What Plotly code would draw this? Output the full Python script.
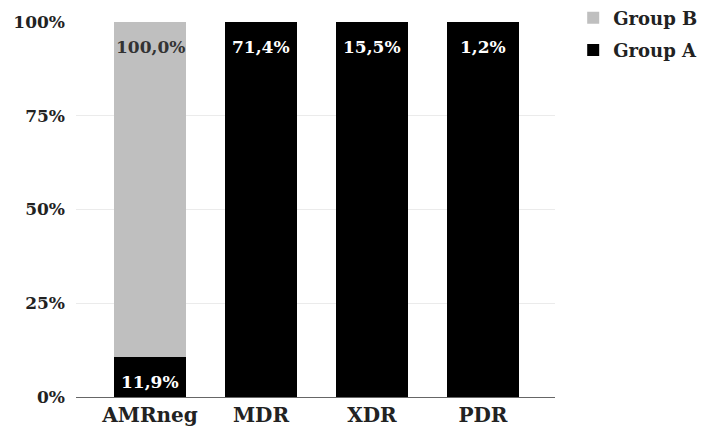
import plotly.graph_objects as go

categories = ["AMRneg", "MDR", "XDR", "PDR"]
group_a = [11.9, 71.4, 15.5, 1.2]
group_b = [100.0, 0.0, 0.0, 0.0]
y_ticks = [0, 25, 50, 75, 100]

FONT = "DejaVu Serif"
COLOR_A = "#000000"
COLOR_B = "#bfbfbf"


def fmt(v):
    return f"{v:.1f}%".replace(".", ",")


fig = go.Figure()
fig.add_trace(go.Bar(
    name="Group A", x=categories, y=group_a,
    legendgroup="a", legendrank=2,
    marker=dict(color=COLOR_A, line=dict(width=0)),
))
fig.add_trace(go.Bar(
    name="Group B", x=categories, y=group_b,
    legendgroup="b", legendrank=1,
    marker=dict(color=COLOR_B, line=dict(width=0)),
))

# Value labels sit just inside the top of each segment (segments normalised to 100%)
annotations = []
for cat, a, b in zip(categories, group_a, group_b):
    total = a + b
    tops = [(a, a / total * 100, "white"), (b, 100.0, "#333333")]
    for value, top, color in tops:
        if value <= 0:
            continue
        annotations.append(dict(
            x=cat, y=top, xref="x", yref="y",
            text=fmt(value), showarrow=False,
            yanchor="top", yshift=-13,
            font=dict(family=FONT, size=17, color=color, weight="bold"),
        ))

fig.update_layout(
    barmode="stack", barnorm="percent", bargap=0.35,
    width=705, height=433,
    margin=dict(l=76, r=150, t=22, b=36, autoexpand=False),
    paper_bgcolor="white", plot_bgcolor="white",
    font=dict(family=FONT, color="#222222", weight="bold"),
    annotations=annotations,
    legend=dict(
        x=1.038, y=1.06, xanchor="left", yanchor="top",
        traceorder="grouped",
        font=dict(family=FONT, size=18, color="#222222", weight="bold"),
        itemwidth=30, tracegroupgap=6,
    ),
    xaxis=dict(
        range=[-0.667, 3.649],
        showline=True, linecolor="#666666", linewidth=1,
        ticks="", tickfont=dict(family=FONT, size=20, color="#222222", weight="bold"),
    ),
    yaxis=dict(
        range=[0, 100], tickvals=y_ticks,
        ticktext=[f"{t}%" for t in y_ticks],
        showgrid=True, gridcolor="#ebebeb", gridwidth=1,
        zeroline=False, ticks="", ticklabelstandoff=10,
        tickfont=dict(family=FONT, size=17, color="#222222", weight="bold"),
    ),
    showlegend=True,
)

fig.write_html("out.html")
